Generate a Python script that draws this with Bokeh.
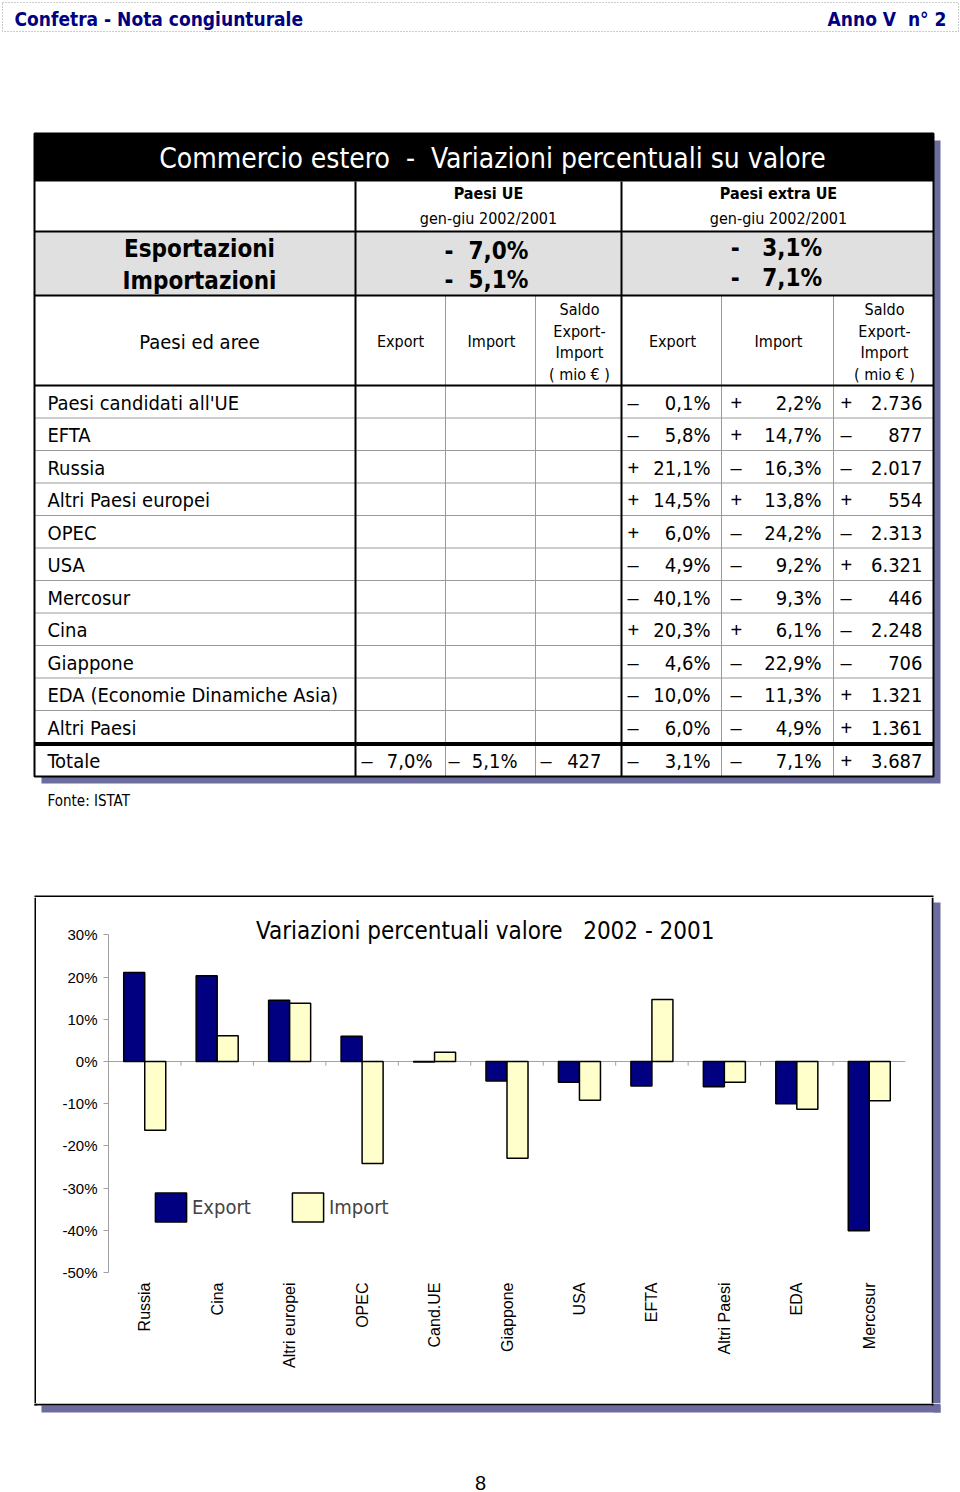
import math
from bokeh.plotting import figure
from bokeh.layouts import column, row
from bokeh.models import (Range1d, FactorRange, Span, Label, Legend, LegendItem,
                          FixedTicker, PrintfTickFormatter, ColumnDataSource)
from bokeh.transform import dodge
from bokeh.core.properties import value
from bokeh.embed import file_html
from bokeh.resources import INLINE

# ---------------- data ----------------
row_labels = ["Paesi candidati all'UE", "EFTA", "Russia", "Altri Paesi europei", "OPEC",
              "USA", "Mercosur", "Cina", "Giappone", "EDA (Economie Dinamiche Asia)", "Altri Paesi"]
extra_export = [-0.1, -5.8, 21.1, 14.5, 6.0, -4.9, -40.1, 20.3, -4.6, -10.0, -6.0]
extra_import = [2.2, 14.7, -16.3, 13.8, -24.2, -9.2, -9.3, 6.1, -22.9, -11.3, -4.9]
extra_saldo = [2736, -877, -2017, 554, -2313, 6321, -446, -2248, -706, 1321, 1361]
total_ue = [-7.0, -5.1, -427]
total_extra = [-3.1, -7.1, 3687]
summary_ue = ["- \u00a07,0%", "- \u00a05,1%"]
summary_extra = ["- \u00a0\u00a03,1%", "- \u00a0\u00a07,1%"]

chart_cats = ["Russia", "Cina", "Altri europei", "OPEC", "Cand.UE", "Giappone",
              "USA", "EFTA", "Altri Paesi", "EDA", "Mercosur"]
chart_export = [21.1, 20.3, 14.5, 6.0, -0.1, -4.6, -4.9, -5.8, -6.0, -10.0, -40.1]
chart_import = [-16.3, 6.1, 13.8, -24.2, 2.2, -22.9, -9.2, 14.7, -4.9, -11.3, -9.3]
y_ticks = [-50, -40, -30, -20, -10, 0, 10, 20, 30]

# ---------------- styles ----------------
FONT = "DejaVu Sans Condensed"
SIGN_FONT = "Liberation Sans"
CHART_FONT = "Liberation Sans"
NAVY = "#000080"
YELLOW = "#FFFFCC"
SHADOW = "#6c6c9e"
GRID_GRAY = "#9a9a9a"


def page_fig(w, h, x0, y0):
    p = figure(width=w, height=h, x_range=Range1d(x0, x0 + w), y_range=Range1d(y0 + h, y0),
               min_border=0, toolbar_location=None, output_backend="svg",
               x_axis_type=None, y_axis_type=None, frame_align=False)
    p.outline_line_color = None
    p.background_fill_color = "white"
    p.border_fill_color = "white"
    return p


def txt(p, xs, ys, texts, size, font=FONT, align="left", bold=False, color="black",
        baseline="middle"):
    p.text(x=xs, y=ys, text=texts, text_font=value(font), text_font_size=f"{size}px",
           text_font_style="bold" if bold else "normal", text_align=align,
           text_baseline=baseline, text_color=color)


def sign_of(v):
    return "+" if v > 0 else "\u2013"


def fmt_pct(v):
    return f"{abs(v):.1f}".replace(".", ",") + "%"


def fmt_saldo(v):
    return f"{abs(v):,}".replace(",", ".")


# ---------------- top figure (header + table) ----------------
top = page_fig(960, 897, 0, 0)

# page header
top.quad(left=[2], right=[958], top=[2], bottom=[31], fill_color=None,
         line_color="#999999", line_dash="1 2", line_width=1)
txt(top, [14], [18], ["Confetra - Nota congiunturale"], 19, bold=True, color=NAVY)
txt(top, [946], [18], ["Anno V \u00a0n\u00b0 2"], 19, bold=True, color=NAVY, align="right")

# table shadow + body
TL, TR, TT, TB = 34, 933, 133, 776
top.quad(left=[TL + 7], right=[TR + 7], top=[TT + 7], bottom=[TB + 7], fill_color=SHADOW, line_color=None)
top.quad(left=[TL], right=[TR], top=[TT], bottom=[TB], fill_color="white", line_color=None)
top.quad(left=[TL], right=[TR], top=[TT], bottom=[181], fill_color="black", line_color=None)
top.quad(left=[TL], right=[TR], top=[231], bottom=[295], fill_color="#e0e0e0", line_color=None)

ROW0, STEP = 385, 32.5
n = len(row_labels)
row_lines = [ROW0 + STEP * k for k in range(1, n)]
top.segment(x0=[TL] * len(row_lines), x1=[TR] * len(row_lines), y0=row_lines, y1=row_lines,
            line_color=GRID_GRAY, line_width=1)
sub_x = [445, 535, 721, 833]
top.segment(x0=sub_x, x1=sub_x, y0=[295] * 4, y1=[TB] * 4, line_color=GRID_GRAY, line_width=1)
top.segment(x0=[TL] * 3, x1=[TR] * 3, y0=[231, 295, 385], y1=[231, 295, 385],
            line_color="black", line_width=2)
tot_line = ROW0 + STEP * n
top.segment(x0=[TL], x1=[TR], y0=[tot_line + 1], y1=[tot_line + 1], line_color="black", line_width=4)
top.segment(x0=[355, 621], x1=[355, 621], y0=[181, 181], y1=[TB, TB], line_color="black", line_width=2)
top.quad(left=[TL], right=[TR], top=[TT], bottom=[TB], fill_color=None, line_color="black", line_width=2)

# title + column headers
txt(top, [492], [158], ["Commercio estero \u00a0- \u00a0Variazioni percentuali su valore"], 28,
    align="center", color="white")
txt(top, [488, 778], [193, 193], ["Paesi UE", "Paesi extra UE"], 16, align="center", bold=True)
txt(top, [488, 778], [218, 218], ["gen-giu 2002/2001", "gen-giu 2002/2001"], 16, align="center")
txt(top, [199, 199], [248, 280], ["Esportazioni", "Importazioni"], 24, align="center", bold=True)
txt(top, [486, 486], [250, 279], summary_ue, 24, align="center", bold=True)
txt(top, [776, 776], [247, 277], summary_extra, 24, align="center", bold=True)
txt(top, [199], [341], ["Paesi ed aree"], 20, align="center")
txt(top, [400, 491, 672, 778], [341] * 4, ["Export", "Import", "Export", "Import"], 16, align="center")
saldo_lines = ["Saldo", "Export-", "Import", "( mio \u20ac )"]
for cx in (579, 884):
    txt(top, [cx] * 4, [309, 331, 352, 374], saldo_lines, 16, align="center")

# data rows
centers = [ROW0 + STEP * (k + 0.5) + 1 for k in range(n)]
txt(top, [47] * n, centers, row_labels, 20)
sign_x = [361, 448, 540, 627, 730, 840]
val_x = [432, 517, 601, 710, 821, 922]
cols = [extra_export, extra_import, extra_saldo]
for j, vals in enumerate(cols):
    fmt = fmt_saldo if j == 2 else fmt_pct
    txt(top, [sign_x[3 + j]] * n, centers, [sign_of(v) for v in vals], 20, font=SIGN_FONT)
    txt(top, [val_x[3 + j]] * n, centers, [fmt(v) for v in vals], 20, align="right")

# totals
ty = (tot_line + TB) / 2 + 1
totals = total_ue + total_extra
txt(top, [47], [ty], ["Totale"], 20)
txt(top, sign_x, [ty] * 6, [sign_of(v) for v in totals], 20, font=SIGN_FONT)
txt(top, val_x, [ty] * 6,
    [fmt_saldo(v) if j % 3 == 2 else fmt_pct(v) for j, v in enumerate(totals)], 20, align="right")

txt(top, [47], [800], ["Fonte: ISTAT"], 15)

# chart box top edge
top.segment(x0=[34], x1=[933], y0=[896], y1=[896], line_color="black", line_width=2)

# ---------------- chart ----------------
src = ColumnDataSource(dict(cat=chart_cats, exp=chart_export, imp=chart_import))
ch = figure(width=895, height=506, x_range=FactorRange(factors=chart_cats, range_padding=0),
            y_range=Range1d(y_ticks[0], 38.86), toolbar_location=None, output_backend="svg",
            min_border_left=72, min_border_right=26, min_border_top=0, min_border_bottom=131,
            frame_align=False)
ch.outline_line_color = None
ch.grid.visible = False
ch.background_fill_color = "white"
ch.border_fill_color = "white"

ch.add_layout(Span(location=0, dimension="width", line_color="#a0a0a0", line_width=1, level="underlay"))
bounds = list(range(1, len(chart_cats)))
ch.segment(x0=bounds, x1=bounds, y0=[0] * len(bounds), y1=[-1] * len(bounds),
           line_color="#a0a0a0", line_width=1)

r_exp = ch.vbar(x=dodge("cat", -0.145, range=ch.x_range), top="exp", bottom=0, width=0.29,
                source=src, fill_color=NAVY, line_color="black", line_width=1.5)
r_imp = ch.vbar(x=dodge("cat", 0.145, range=ch.x_range), top="imp", bottom=0, width=0.29,
                source=src, fill_color=YELLOW, line_color="black", line_width=1.5)

ch.yaxis.ticker = FixedTicker(ticks=y_ticks)
ch.yaxis.bounds = (y_ticks[0], y_ticks[-1])
ch.yaxis.formatter = PrintfTickFormatter(format="%d%%")
ch.yaxis.axis_line_color = "#a0a0a0"
ch.yaxis.major_tick_line_color = "#a0a0a0"
ch.yaxis.major_tick_out = 5
ch.yaxis.major_tick_in = 0
ch.yaxis.minor_tick_line_color = None
ch.yaxis.major_label_standoff = 6
ch.yaxis.major_label_text_font = CHART_FONT
ch.yaxis.major_label_text_font_size = "15px"
ch.yaxis.major_label_text_color = "black"

ch.xaxis.axis_line_color = None
ch.xaxis.major_tick_line_color = None
ch.xaxis.minor_tick_line_color = None
ch.xaxis.major_label_orientation = math.pi / 2
ch.xaxis.major_label_standoff = 4
ch.xaxis.major_label_text_font = CHART_FONT
ch.xaxis.major_label_text_font_size = "16px"
ch.xaxis.major_label_text_color = "black"

ch.add_layout(Label(x=5.2, y=31.0, text="Variazioni percentuali valore \u00a0\u00a02002 - 2001",
                    text_align="center", text_baseline="middle", text_font=FONT,
                    text_font_size="24px", text_color="black"))

legend = Legend(items=[LegendItem(label="Export", renderers=[r_exp]),
                       LegendItem(label="Import", renderers=[r_imp])],
                location=(43, 47), orientation="horizontal", glyph_width=39, glyph_height=36,
                label_standoff=2, spacing=37, padding=0, margin=0, border_line_color=None,
                background_fill_alpha=0, label_text_font=FONT, label_text_font_size="20px")
ch.add_layout(legend)

# ---------------- side strips and bottom ----------------
left = page_fig(36, 506, 0, 897)
left.segment(x0=[35], x1=[35], y0=[897], y1=[1403], line_color="black", line_width=2)

right = page_fig(29, 506, 931, 897)
right.quad(left=[933], right=[940], top=[902], bottom=[1403], fill_color=SHADOW, line_color=None)
right.segment(x0=[932], x1=[932], y0=[897], y1=[1403], line_color="black", line_width=2)

bottom = page_fig(960, 89, 0, 1403)
bottom.quad(left=[41, 933], right=[940, 940], top=[1405, 1403], bottom=[1412, 1412],
            fill_color=SHADOW, line_color=None)
bottom.segment(x0=[34, 35, 932], x1=[933, 35, 932], y0=[1404, 1403, 1403], y1=[1404, 1405, 1405],
               line_color="black", line_width=2)
txt(bottom, [480], [1482], ["8"], 20, font=CHART_FONT, align="center")

page = column(top, row(left, ch, right), bottom)
open("out.html", "w").write(file_html(page, INLINE))
